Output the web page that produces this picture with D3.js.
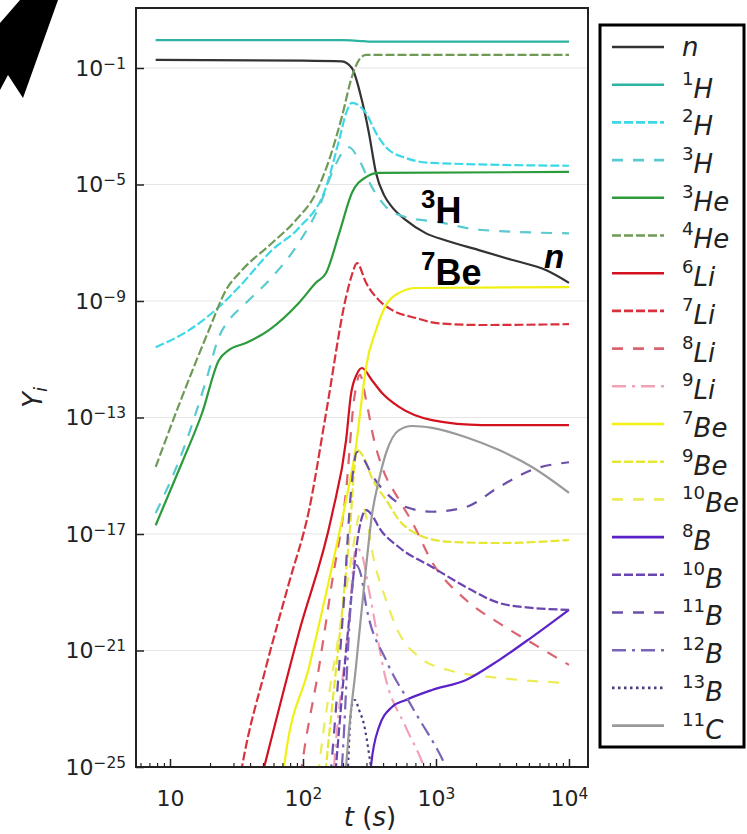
<!DOCTYPE html>
<html>
<head>
<meta charset="utf-8">
<script src="https://cdn.jsdelivr.net/npm/d3@7"></script>
<style>
  body { margin: 0; background: #fff; }
  svg { display: block; }
  text { fill: #222; }
</style>
</head>
<body>
<svg id="chart" width="747" height="834"></svg>
<script>
// Abundances Y_i versus time t (s); each entry is [t, Y].
const nData = [[7.8,1.9e-1],[100,1.8e-1],[196,1.7e-1],[233,1.0e-1],[277,7.9e-3],[313,5.9e-4],[354,2.5e-5],[406,4.4e-6],[466,1.7e-6],[594,6.0e-7],[842,2.1e-7],[1190,1.2e-7],[2100,5.6e-8],[3700,2.6e-8],[6700,1.15e-8],[10000,4.2e-9]];
const h1Data = [[7.8,0.91],[200,0.91],[260,0.86],[330,0.80],[10000,0.80]];
const h2Data = [[7.8,2.6e-11],[13.9,1.0e-10],[23.3,6.2e-10],[33,3.0e-9],[58.5,5.6e-8],[93,3.2e-7],[149,8.1e-6],[187,3.4e-4],[211,2.8e-3],[233,6.3e-3],[298,2.8e-3],[354,5.9e-4],[421,1.9e-4],[594,8.1e-5],[933,5.5e-5],[10000,4.4e-5]];
const h3Data = [[7.8,5.2e-17],[12.3,6.0e-15],[18.7,1.9e-12],[23.3,5.8e-11],[27.8,2.2e-10],[37.2,8.5e-10],[58.5,6.6e-9],[88.5,7.1e-8],[139,3.0e-6],[165,2.5e-5],[222,1.9e-4],[264,6.9e-5],[330,8.1e-6],[421,1.7e-6],[594,7.6e-7],[1054,5.1e-7],[2100,2.8e-7],[10000,2.1e-7]];
const he3Data = [[7.8,2.0e-17],[12.3,2.8e-15],[17.4,1.4e-13],[23.3,9.3e-12],[27.8,2.1e-11],[37.2,3.6e-11],[55.5,1.0e-10],[93,8.5e-10],[125,4.2e-9],[149,9.1e-9],[187,2.1e-7],[233,5.1e-6],[298,1.8e-5],[372,2.5e-5],[10000,2.7e-5]];
const he4Data = [[7.8,2.0e-15],[12.3,5.0e-13],[19.6,1.0e-10],[26.4,2.4e-9],[34.8,1.15e-8],[58.5,9.8e-8],[88.5,6.0e-7],[125,5.1e-6],[157,6.9e-5],[196,2.1e-3],[233,4.9e-2],[264,1.9e-1],[298,2.8e-1],[10000,2.8e-1]];
const li6Data = [[45,1e-26],[93,4.0e-21],[165,4.5e-17],[211,1.7e-14],[229,5.9e-13],[255,3.2e-12],[278,5.0e-12],[330,1.9e-12],[393,6.9e-13],[527,2.3e-13],[933,8.1e-14],[2220,5.5e-14],[10000,5.5e-14]];
const li7Data = [[32,1e-26],[34.8,1e-25],[52.7,2.7e-22],[78.5,2.1e-19],[111,6.6e-17],[149,1.4e-13],[211,1.4e-9],[233,7.8e-9],[255,2.0e-8],[298,4.2e-9],[372,1.07e-9],[467,4.9e-10],[708,2.6e-10],[1054,1.7e-10],[2220,1.5e-10],[10000,1.6e-10]];
const li8Data = [[92,1e-26],[98,1e-25],[132,2.7e-22],[165,2.1e-19],[211,3.2e-16],[242,4.0e-13],[268,2.9e-12],[298,4.0e-13],[342,1.7e-14],[393,2.0e-15],[527,1.5e-16],[661,2.6e-17],[933,1.1e-18],[1683,5.4e-20],[2980,8.7e-21],[5270,1.8e-21],[10000,3.2e-22]];
const li9Data = [[165,1e-26],[171,1e-25],[222,1.1e-20],[250,3.3e-18],[273,2.4e-18],[313,1.2e-19],[421,9.8e-23],[594,2.3e-24],[813,1e-25],[900,2.5e-26]];
const be7Data = [[68,1e-26],[72,1e-25],[111,2.7e-22],[165,7.4e-19],[211,1.5e-16],[250,9.8e-15],[278,5.0e-13],[298,5.4e-12],[354,1.0e-10],[421,7.2e-10],[527,1.9e-9],[708,2.8e-9],[10000,3.0e-9]];
const be9Data = [[142,1e-26],[149,1e-25],[222,6.2e-18],[255,7.6e-15],[288,4.1e-15],[330,8.3e-16],[421,1.5e-16],[527,3.0e-17],[745,9.3e-18],[1253,5.4e-18],[2980,4.9e-18],[10000,6.2e-18]];
const be10Data = [[125,1e-26],[132,1e-25],[187,4.0e-21],[230,1.3e-18],[264,4.5e-17],[283,7.8e-17],[303,3.0e-17],[330,2.8e-18],[421,5.4e-20],[527,4.0e-21],[745,6.0e-22],[1253,2.1e-22],[2980,1.15e-22],[10000,7.6e-23]];
const b8Data = [[318,1e-26],[324,1e-25],[372,2.3e-24],[467,1.15e-23],[594,2.0e-23],[933,4.4e-23],[1683,9.8e-23],[2980,4.7e-22],[5270,2.9e-21],[10000,2.5e-20]];
const b10Data = [[170,1e-26],[177,1e-25],[222,1.1e-20],[264,1.4e-17],[298,6.6e-17],[330,4.5e-17],[372,1.7e-17],[527,3.5e-18],[933,7.4e-19],[1683,1.5e-19],[2980,4.3e-20],[5270,2.9e-20],[10000,2.5e-20]];
const b11Data = [[156,1e-26],[163,1e-25],[203,5.4e-20],[230,3.2e-16],[255,6.6e-15],[288,3.5e-15],[330,1.07e-15],[421,2.6e-16],[594,8.5e-17],[933,5.8e-17],[1683,8.5e-17],[2980,4.1e-16],[5270,1.6e-15],[10000,2.9e-15]];
const b12Data = [[188,1e-26],[196,1e-25],[230,5.4e-20],[250,8.7e-19],[273,3.9e-19],[298,3.6e-20],[421,4.7e-22],[661,1.15e-23],[1190,1e-25],[1300,4e-26]];
const b13Data = [[214,1e-26],[218,1e-25],[233,1.35e-23],[246,2.0e-23],[264,9.1e-24],[288,2.8e-24],[313,3.0e-25],[324,1e-25],[335,2.5e-26]];
const c11Data = [[205,1e-26],[211,1e-25],[250,2.7e-22],[298,7.4e-19],[330,4.5e-17],[372,7.1e-16],[421,6.0e-15],[527,3.7e-14],[661,5.1e-14],[933,4.4e-14],[1683,2.1e-14],[2980,7.6e-15],[5270,2.0e-15],[10000,2.6e-16]];

// Legend entries: mass number and element symbol.
const massNumbers = ["", "1", "2", "3", "3", "4", "6", "7", "8", "9", "7", "9", "10", "8", "10", "11", "12", "13", "11"];
const symbols = ["n", "H", "H", "H", "He", "He", "Li", "Li", "Li", "Li", "Be", "Be", "Be", "B", "B", "B", "B", "B", "C"];
const seriesData = [nData, h1Data, h2Data, h3Data, he3Data, he4Data, li6Data, li7Data, li8Data, li9Data, be7Data, be9Data, be10Data, b8Data, b10Data, b11Data, b12Data, b13Data, c11Data];

// Tick values
const xMajorTicks = [10, 100, 1000, 10000];
const xMajorExponents = ["", "2", "3", "4"];
const yTickExponents = [-1, -5, -9, -13, -17, -21, -25];

// Line styles per species (same order as the legend)
const DASHED = "9,3", LOOSE = "11,10", DASHDOT = "14,6,3,6", DOTTED = "2.5,3.5";
const lineColors = ["#333333", "#2db3a2", "#3dd8e6", "#58cad0", "#2b9b3b", "#6f9a55",
  "#d4111f", "#d8303c", "#dc6470", "#f2a2b6", "#f0f012", "#e6e634", "#ecec5a",
  "#5a22c8", "#6a44b0", "#6a50a8", "#7a64b8", "#4a3a80", "#9a9a9a"];
const lineDashes = [null, null, DASHED, LOOSE, null, DASHED,
  null, DASHED, LOOSE, DASHDOT, null, DASHED, LOOSE,
  null, DASHED, LOOSE, DASHDOT, DOTTED, null];

const BASE_FONT = "'DejaVu Sans', sans-serif";
const BOLD_FONT = "'Liberation Sans', Arial, sans-serif";

const svg = d3.select("#chart");
const plot = { left: 136, right: 588, top: 8, bottom: 767 };

const x = d3.scaleLog().domain([5.55, 13900]).range([plot.left, plot.right]);
const y = d3.scaleLog().domain([1e-25, Math.pow(10, 1.06)]).range([plot.bottom, plot.top]);

// corner arrow
svg.append("polygon")
  .attr("points", [[0,23],[20,0],[58,0],[23,98],[8,75],[0,90]].map(p => p.join(",")).join(" "))
  .attr("fill", "#000");

// clip region
svg.append("defs").append("clipPath").attr("id", "plotClip")
  .append("rect")
  .attr("x", plot.left).attr("y", plot.top)
  .attr("width", plot.right - plot.left).attr("height", plot.bottom - plot.top);

// horizontal grid
const yTickValues = yTickExponents.map(e => Math.pow(10, e));
svg.append("g").selectAll("line").data(yTickValues).join("line")
  .attr("x1", plot.left).attr("x2", plot.right)
  .attr("y1", d => y(d)).attr("y2", d => y(d))
  .attr("stroke", "#e6e6e6").attr("stroke-width", 1);

// curves
const line = d3.line()
  .x(d => x(d[0]))
  .y(d => y(d[1]))
  .curve(d3.curveMonotoneX);

const curves = svg.append("g").attr("clip-path", "url(#plotClip)");
seriesData.forEach((data, i) => {
  curves.append("path")
    .datum(data)
    .attr("d", line)
    .attr("fill", "none")
    .attr("stroke", lineColors[i])
    .attr("stroke-width", 2.2)
    .attr("stroke-dasharray", lineDashes[i])
    .attr("stroke-linejoin", "round");
});

// axes
const xMinorTicks = [];
[1, 10, 100, 1000].forEach(dec => {
  for (let k = 2; k <= 9; k++) {
    const v = dec * k;
    if (v >= 5.55 && v <= 13900) xMinorTicks.push(v);
  }
});

const xMinorAxis = svg.append("g")
  .attr("transform", `translate(0,${plot.bottom})`)
  .call(d3.axisBottom(x).tickValues(xMinorTicks).tickSize(-4).tickFormat(""));
xMinorAxis.select(".domain").remove();
xMinorAxis.selectAll("line").attr("stroke", "#222").attr("stroke-width", 1.2);

const xMajorAxis = svg.append("g")
  .attr("transform", `translate(0,${plot.bottom})`)
  .call(d3.axisBottom(x).tickValues(xMajorTicks).tickSize(-8).tickPadding(23).tickFormat(() => ""));
xMajorAxis.select(".domain").remove();
xMajorAxis.selectAll("line").attr("stroke", "#222").attr("stroke-width", 1.5);
xMajorAxis.selectAll("text").each(function(d, i) {
  const t = d3.select(this).attr("font-size", 22).style("font-family", BASE_FONT).attr("fill", "#222");
  t.append("tspan").text("10");
  if (xMajorExponents[i]) t.append("tspan").attr("dy", "-0.45em").attr("font-size", "0.7em").text(xMajorExponents[i]);
});

const yAxis = svg.append("g")
  .attr("transform", `translate(${plot.left},0)`)
  .call(d3.axisLeft(y).tickValues(yTickValues).tickSize(-8).tickPadding(10).tickFormat(() => ""));
yAxis.select(".domain").remove();
yAxis.selectAll("line").attr("stroke", "#222").attr("stroke-width", 1.5);
yAxis.selectAll("text").each(function(d, i) {
  const t = d3.select(this).attr("font-size", 22).style("font-family", BASE_FONT).attr("fill", "#222");
  t.append("tspan").text("10");
  t.append("tspan").attr("dy", "-0.45em").attr("font-size", "0.7em").text("\u2212" + Math.abs(yTickExponents[i]));
});

// frame
svg.append("rect")
  .attr("x", plot.left).attr("y", plot.top)
  .attr("width", plot.right - plot.left).attr("height", plot.bottom - plot.top)
  .attr("fill", "none").attr("stroke", "#222").attr("stroke-width", 2);

// axis titles
const xTitle = svg.append("text")
  .attr("x", (plot.left + plot.right) / 2 + 8).attr("y", 826)
  .attr("text-anchor", "middle").attr("font-size", 26).style("font-family", BASE_FONT);
xTitle.append("tspan").attr("font-style", "italic").text("t");
xTitle.append("tspan").text(" (");
xTitle.append("tspan").attr("font-style", "italic").text("s");
xTitle.append("tspan").text(")");

const yTitle = svg.append("text")
  .attr("transform", `translate(42,${(plot.top + plot.bottom) / 2 + 10}) rotate(-90)`)
  .attr("text-anchor", "middle").attr("font-size", 26).style("font-family", BASE_FONT);
yTitle.append("tspan").attr("font-style", "italic").text("Y");
yTitle.append("tspan").attr("font-style", "italic").attr("font-size", "0.7em").attr("dy", "0.3em").text("i");

// annotations
function annotate(xPos, yPos, sup, main, italic, size) {
  const t = svg.append("text")
    .attr("x", xPos).attr("y", yPos)
    .style("font-family", BOLD_FONT)
    .attr("font-weight", "bold").attr("font-size", size).style("fill", "#000");
  if (sup) {
    t.append("tspan").attr("font-size", "0.72em").attr("dy", "-0.42em").text(sup);
    t.append("tspan").attr("dy", "0.42em").attr("font-style", italic ? "italic" : null).text(main);
  } else {
    t.append("tspan").attr("font-style", italic ? "italic" : null).text(main);
  }
}
annotate(421, 219, "3", "H", false, 36);
annotate(421, 281, "7", "Be", false, 36);
annotate(544, 268, null, "n", true, 33);

// legend
const legend = svg.append("g");
legend.append("rect")
  .attr("x", 600).attr("y", 25).attr("width", 144).attr("height", 722)
  .attr("fill", "#fff").attr("stroke", "#000").attr("stroke-width", 3);

symbols.forEach((sym, i) => {
  const yy = 47 + i * 37.7;
  legend.append("line")
    .attr("x1", 612).attr("x2", 664).attr("y1", yy).attr("y2", yy)
    .attr("stroke", lineColors[i]).attr("stroke-width", 2.6)
    .attr("stroke-dasharray", lineDashes[i]);
  const t = legend.append("text")
    .attr("x", 682).attr("y", yy + 9).attr("font-size", 26).style("font-family", BASE_FONT);
  if (massNumbers[i]) {
    t.append("tspan").attr("font-size", "0.7em").attr("dy", "-0.5em").text(massNumbers[i]);
    t.append("tspan").attr("dy", "0.5em").attr("font-style", "italic").text(sym);
  } else {
    t.append("tspan").attr("font-style", "italic").text(sym);
  }
});
</script>
</body>
</html>
